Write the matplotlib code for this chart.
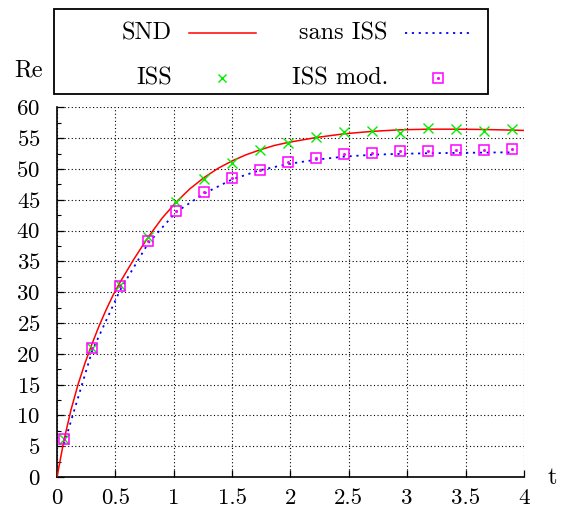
"""
Courbe Re(t) : comparaison SND / ISS / ISS mod. / sans ISS
"""

import matplotlib
matplotlib.use("Agg")
import matplotlib.pyplot as plt
from matplotlib.lines import Line2D
from matplotlib.patches import Rectangle
from matplotlib.ticker import MultipleLocator

# =====================================================================
# DATA
# =====================================================================
# SND reference curve
T_SND = [0.0, 0.06, 0.12, 0.18, 0.24, 0.30, 0.36, 0.42, 0.48, 0.54, 0.66,
         0.78, 0.90, 1.02, 1.14, 1.26, 1.38, 1.50, 1.62, 1.74, 1.86, 1.98,
         2.22, 2.46, 2.70, 2.94, 3.18, 3.42, 3.66, 3.90, 4.0]
RE_SND = [0.0, 6.0, 10.9, 15.0, 18.5, 21.6, 24.5, 27.1, 29.5, 31.6, 35.4,
          38.9, 42.0, 44.6, 46.8, 48.6, 50.1, 51.3, 52.3, 53.1, 53.8, 54.3,
          55.1, 55.7, 56.1, 56.35, 56.45, 56.45, 56.4, 56.3, 56.25]

# sampled runs (same time instants)
T_PTS = [0.06, 0.30, 0.54, 0.78, 1.02, 1.26, 1.50, 1.74, 1.98, 2.22, 2.46,
         2.70, 2.94, 3.18, 3.42, 3.66, 3.90]
RE_SANS_ISS = [5.3, 20.4, 30.3, 37.9, 43.0, 46.0, 48.3, 49.8, 50.8, 51.5,
               52.0, 52.3, 52.45, 52.55, 52.6, 52.65, 52.7]
RE_ISS = [6.2, 20.9, 31.1, 39.0, 44.6, 48.3, 51.0, 53.1, 54.25, 55.2, 56.0,
          56.15, 55.8, 56.7, 56.4, 56.15, 56.5]
RE_ISS_MOD = [6.2, 20.9, 31.0, 38.3, 43.2, 46.25, 48.5, 49.8, 51.1, 51.8,
              52.4, 52.6, 52.85, 52.95, 53.1, 53.1, 53.2]

X_TICKS = [0, 0.5, 1, 1.5, 2, 2.5, 3, 3.5, 4]
X_TICK_LABELS = ["0", "0.5", "1", "1.5", "2", "2.5", "3", "3.5", "4"]
Y_TICKS = list(range(0, 61, 5))

# =====================================================================
# STYLE
# =====================================================================
plt.rcParams["font.family"] = ["cmr10", "DejaVu Serif"]
plt.rcParams["axes.formatter.use_mathtext"] = True
FS = 17.5       # key and axis names
FS_TICK = 16.5  # tick labels
GRID_LS = (0, (1, 2.2))
BLUE_LS = (0, (1.2, 2.6))


def add_legend(fig):
    """gnuplot-like key box above the plot, drawn in figure coordinates."""
    tf = fig.transFigure
    fig.add_artist(Rectangle((0.0963, 0.8164), 0.7737, 0.166, transform=tf,
                             fill=False, edgecolor="black", linewidth=1.3))
    y1, y2 = 0.9355, 0.8477
    fig.text(0.3066, y1, "SND", ha="right", va="center", fontsize=FS)
    fig.text(0.6916, y1, "sans ISS", ha="right", va="center", fontsize=FS)
    fig.text(0.3066, y2, "ISS", ha="right", va="center", fontsize=FS)
    fig.text(0.6916, y2, "ISS mod.", ha="right", va="center", fontsize=FS)
    fig.add_artist(Line2D([0.3369, 0.4563], [y1, y1], transform=tf,
                          color="#ff0000", linewidth=1.1))
    fig.add_artist(Line2D([0.7219, 0.8378], [y1, y1], transform=tf,
                          color="#0000ff", linewidth=1.3, linestyle=BLUE_LS))
    fig.add_artist(Line2D([0.3957], [y2], transform=tf, linestyle="none",
                          marker="x", markersize=6, markeredgewidth=1.0,
                          color="#00ee00"))
    fig.add_artist(Line2D([0.7807], [y2], transform=tf, linestyle="none",
                          marker="s", markersize=6.5, markeredgewidth=1.1,
                          markerfacecolor="none", markeredgecolor="#ff00ff"))
    fig.add_artist(Line2D([0.7807], [y2], transform=tf, linestyle="none",
                          marker="o", markersize=1.2, color="#ff00ff"))


def main():
    fig = plt.figure(figsize=(5.61, 5.12), dpi=100)
    ax = fig.add_axes([0.1016, 0.0684, 0.8324, 0.7220])

    ax.plot(T_SND, RE_SND, color="#ff0000", linewidth=1.1, zorder=3)
    ax.plot(T_PTS, RE_SANS_ISS, color="#0000ff", linewidth=1.3,
            linestyle=BLUE_LS, zorder=3)
    ax.plot(T_PTS, RE_ISS, linestyle="none", marker="x", markersize=7,
            markeredgewidth=1.0, color="#00ee00", zorder=4)
    ax.plot(T_PTS, RE_ISS_MOD, linestyle="none", marker="s", markersize=7.5,
            markeredgewidth=1.1, markerfacecolor="none",
            markeredgecolor="#ff00ff", zorder=5)
    ax.plot(T_PTS, RE_ISS_MOD, linestyle="none", marker="o", markersize=1.2,
            color="#ff00ff", zorder=5)

    ax.set_xlim(0, 4)
    ax.set_ylim(0, 60)
    ax.set_xticks(X_TICKS)
    ax.set_xticklabels(X_TICK_LABELS)
    ax.set_yticks(Y_TICKS)
    ax.yaxis.set_minor_locator(MultipleLocator(2.5))
    ax.tick_params(axis="both", which="major", direction="in", length=5,
                   width=0.9, labelsize=FS_TICK, top=False, right=False)
    ax.tick_params(axis="y", which="minor", direction="in", length=3,
                   width=0.8, right=False)
    ax.tick_params(axis="x", pad=8)
    ax.tick_params(axis="y", pad=12)

    ax.grid(True, which="major", color="black", linestyle=GRID_LS,
            linewidth=0.8)
    ax.spines["top"].set_visible(False)
    ax.spines["right"].set_visible(False)
    for side in ("left", "bottom"):
        ax.spines[side].set_linewidth(1.2)

    fig.text(0.0517, 0.863, "Re", ha="center", va="center", fontsize=FS)
    fig.text(0.9848, 0.066, "t", ha="center", va="center", fontsize=FS)

    add_legend(fig)

    fig.savefig("out.png", dpi=100)


if __name__ == "__main__":
    main()
